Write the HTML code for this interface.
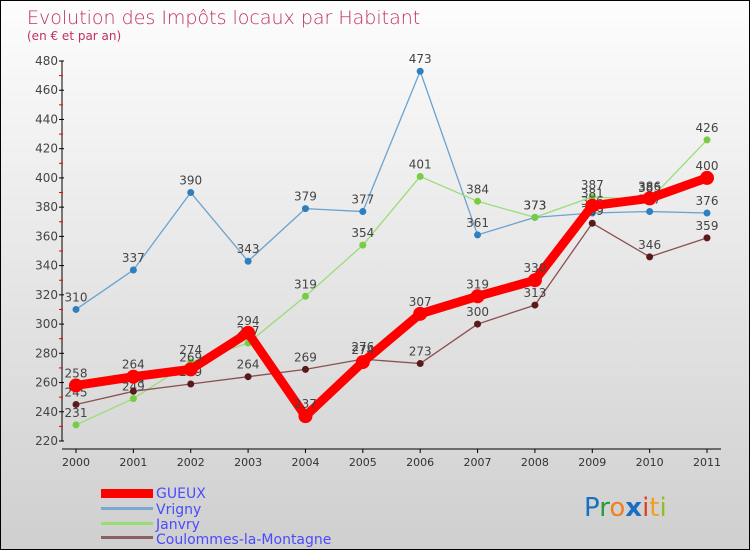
<!DOCTYPE html>
<html><head><meta charset="utf-8"><style>
body{margin:0}
#c{width:748px;height:548px;border:1px solid #000;background:linear-gradient(#fdfdfd,#cfcfcf);position:relative;font-family:"DejaVu Sans","Liberation Sans",sans-serif}
</style></head><body>
<div id="c">
<svg id="s" width="748" height="548">
<text x="26" y="23" font-size="19" fill="#c0305e" font-family="DejaVu Sans" font-weight="200">Evolution des Impôts locaux par Habitant</text>
<text x="26" y="39" font-size="12" fill="#c0305e">(en € et par an)</text>
<g id="axes"></g><g id="series"></g>
<g font-size="14" fill="#4a4aff">
<rect x="100" y="488" width="52" height="9" fill="#f00"/>
<text x="155" y="497">GUEUX</text>
<rect x="100" y="506" width="52" height="3" fill="#7aa9d0"/>
<text x="155" y="513">Vrigny</text>
<rect x="100" y="521" width="52" height="3" fill="#99dd77"/>
<text x="155" y="528">Janvry</text>
<rect x="100" y="535" width="52" height="3" fill="#8b6060"/>
<text x="155" y="543">Coulommes-la-Montagne</text>
</g>
<g font-size="26" font-family="DejaVu Sans">
<text x="583" y="515"><tspan fill="#1a70c0">P</tspan><tspan fill="#2a9a3a">r</tspan><tspan fill="#f08020">o</tspan><tspan fill="#1a70c0" font-weight="bold">x</tspan><tspan fill="#e04020">i</tspan><tspan fill="#f0a020">t</tspan><tspan fill="#90c020">i</tspan></text>
</g>
</svg></div>
<script>
const years=[2000,2001,2002,2003,2004,2005,2006,2007,2008,2009,2010,2011];
const gueux=[258,264,269,294,237,274,307,319,330,381,386,400];
const vrigny=[310,337,390,343,379,377,473,361,373,376,377,376];
const janvry=[231,249,274,287,319,354,401,384,373,387,385,426];
const coulommes=[245,254,259,264,269,276,273,300,313,369,346,359];
const yTicks=[220,240,260,280,300,320,340,360,380,400,420,440,460,480];
const NS="http://www.w3.org/2000/svg";
const X=i=>75+i*(706-75)/11;
const Y=v=>440-(v-220)*380/260;
function el(t,a,p){const e=document.createElementNS(NS,t);for(const k in a)e.setAttribute(k,a[k]);p.appendChild(e);return e;}
const ax=document.getElementById('axes'),sg=document.getElementById('series');
const yl=el('line',{x1:61,y1:60,x2:61,y2:440,stroke:'#000'},ax);


yTicks.forEach(v=>{
 el('line',{x1:58,x2:63,y1:Y(v),y2:Y(v),stroke:'#000'},ax);
 if(v<480)el('line',{x1:58,x2:62,y1:Y(v+10),y2:Y(v+10),stroke:'#e00'},ax);
 const t=el('text',{x:57,y:Y(v)+4,'text-anchor':'end','font-size':12,fill:'#444'},ax);t.textContent=v;
 
 
});
const xl=el('line',{x1:61,y1:448,x2:720,y2:448,stroke:'#000'},ax);


years.forEach((y,i)=>{
 el('line',{x1:X(i),x2:X(i),y1:448,y2:452,stroke:'#000'},ax);
 const t=el('text',{x:X(i),y:465,'text-anchor':'middle','font-size':11,fill:'#333'},ax);t.textContent=y;
 
 
});
function series(data,name,color,w,r,dot){
 const g=el('g',{},sg);
 
 
 el('polyline',{points:data.map((v,i)=>X(i)+','+Y(v)).join(' '),fill:'none',stroke:color,'stroke-width':w,'stroke-linejoin':'round'},g);
 data.forEach((v,i)=>{
  const c=el('circle',{cx:X(i),cy:Y(v),r:r,fill:dot},g);
  
  
  const t=el('text',{x:X(i),y:Y(v)-8,'text-anchor':'middle','font-size':12,fill:'#444'},g);t.textContent=v;
  
  
 });
}
series(vrigny,'vrigny','#6aa3d0',1.3,3.5,'#2e7fc0');
series(janvry,'janvry','#99dd77',1.3,3.5,'#77cc44');
series(coulommes,'coulommes','#8b5050',1.3,3.5,'#5a1a1a');
series(gueux,'gueux','#f00',9,7,'#f00');
</script>
</body></html>
